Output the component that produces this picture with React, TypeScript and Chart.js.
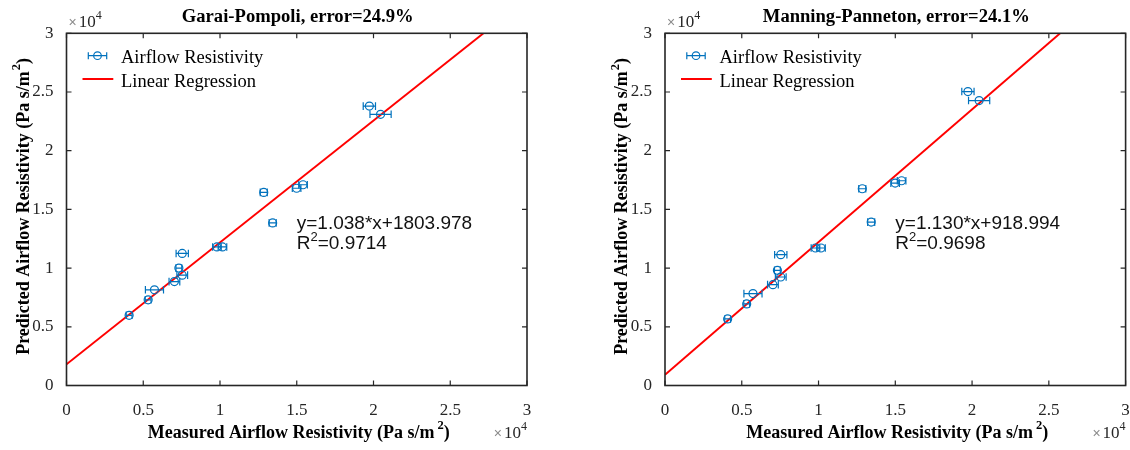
import React, { useEffect, useRef } from "react";
import { Chart, registerables } from "chart.js";

Chart.register(...registerables);

// ---------------- Data ----------------
const tickValues = [0, 5000, 10000, 15000, 20000, 25000, 30000];
const tickLabels = ["0", "0.5", "1", "1.5", "2", "2.5", "3"];

// measured airflow resistivity (Pa s/m^2) and its horizontal error
const measured = [4080, 5320, 5730, 7030, 7320, 7540, 7540, 9800, 10160, 12850, 13430, 14990, 15410, 19730, 20460];
const measuredErr = [190, 190, 590, 350, 190, 350, 400, 280, 280, 230, 230, 280, 280, 400, 690];

// Garai-Pompoli predictions
const gpPredicted = [5980, 7300, 8150, 8850, 10000, 9400, 11250, 11800, 11800, 16450, 13850, 16800, 17100, 23800, 23100];
const gpSlope = 1.038;
const gpIntercept = 1803.978;
const gpR2 = "0.9714";
const gpTitle = "Garai-Pompoli, error=24.9%";

// Manning-Panneton predictions
const mpPredicted = [5670, 6950, 7830, 8590, 9810, 9240, 11140, 11710, 11710, 16760, 13920, 17240, 17440, 25040, 24270];
const mpSlope = 1.13;
const mpIntercept = 918.994;
const mpR2 = "0.9698";
const mpTitle = "Manning-Panneton, error=24.1%";

const axisMax = 30000;

// ---------------- Styles ----------------
const serif = '"Liberation Serif", "Times New Roman", Times, serif';
const sans = '"Liberation Sans", Arial, Helvetica, sans-serif';
const axisColor = "#262626";
const markerColor = "#0072BD";
const lineColor = "#FF0000";

type Seg = { t: string; sup?: boolean; dx?: number };

function drawRich(
  ctx: CanvasRenderingContext2D,
  segs: Seg[],
  x: number,
  y: number,
  align: "left" | "center" | "right",
  font: string,
  supFont: string,
  raise: number
) {
  const widths = segs.map((s) => {
    ctx.font = s.sup ? supFont : font;
    return ctx.measureText(s.t).width + (s.dx || 0);
  });
  const total = widths.reduce((a, b) => a + b, 0);
  let cx = align === "center" ? x - total / 2 : align === "right" ? x - total : x;
  ctx.textAlign = "left";
  ctx.textBaseline = "alphabetic";
  segs.forEach((s, i) => {
    ctx.font = s.sup ? supFont : font;
    ctx.fillText(s.t, cx + (s.dx || 0), s.sup ? y - raise : y);
    cx += widths[i];
  });
}

type PanelProps = {
  left: number;
  canvasWidth: number;
  yAxisWidth: number;
  rightPad: number;
  predicted: number[];
  slope: number;
  intercept: number;
  r2: string;
  title: string;
};

function Panel(p: PanelProps) {
  const ref = useRef<HTMLCanvasElement | null>(null);

  useEffect(() => {
    const canvas = ref.current;
    if (!canvas) return;

    const points = measured.map((x, i) => ({ x, y: p.predicted[i] }));
    const xEnd = (axisMax - p.intercept) / p.slope;
    const fitLine = [
      { x: 0, y: p.intercept },
      { x: xEnd, y: p.slope * xEnd + p.intercept },
    ];

    const decor = {
      id: "decor",
      afterDatasetsDraw(chart: any) {
        const ctx: CanvasRenderingContext2D = chart.ctx;
        const xs = chart.scales.x;
        const ys = chart.scales.y;
        ctx.save();
        ctx.strokeStyle = markerColor;
        ctx.lineWidth = 1.2;
        const cap = 3.8;
        measured.forEach((m, i) => {
          const py = ys.getPixelForValue(p.predicted[i]);
          const x1 = xs.getPixelForValue(m - measuredErr[i]);
          const x2 = xs.getPixelForValue(m + measuredErr[i]);
          ctx.beginPath();
          ctx.moveTo(x1, py);
          ctx.lineTo(x2, py);
          ctx.moveTo(x1, py - cap);
          ctx.lineTo(x1, py + cap);
          ctx.moveTo(x2, py - cap);
          ctx.lineTo(x2, py + cap);
          ctx.stroke();
        });
        ctx.restore();
      },
      afterDraw(chart: any) {
        const ctx: CanvasRenderingContext2D = chart.ctx;
        const { left, right, top, bottom } = chart.chartArea;
        const xs = chart.scales.x;
        const ys = chart.scales.y;
        ctx.save();

        // box + inward ticks
        ctx.strokeStyle = axisColor;
        ctx.lineWidth = 1.6;
        ctx.strokeRect(left, top, right - left, bottom - top);
        ctx.lineWidth = 1.2;
        const tl = 5;
        ctx.beginPath();
        tickValues.forEach((v) => {
          const px = xs.getPixelForValue(v);
          ctx.moveTo(px, bottom);
          ctx.lineTo(px, bottom - tl);
          ctx.moveTo(px, top);
          ctx.lineTo(px, top + tl);
          const py = ys.getPixelForValue(v);
          ctx.moveTo(left, py);
          ctx.lineTo(left + tl, py);
          ctx.moveTo(right, py);
          ctx.lineTo(right - tl, py);
        });
        ctx.stroke();

        const cxPlot = (left + right) / 2;
        const cyPlot = (top + bottom) / 2;

        // title
        ctx.fillStyle = "#000";
        ctx.font = `bold 18.6px ${serif}`;
        ctx.textAlign = "center";
        ctx.textBaseline = "alphabetic";
        ctx.fillText(p.title, cxPlot + 1, 21.5);

        // x label
        ctx.fillStyle = "#000";
        drawRich(
          ctx,
          [
            { t: "Measured Airflow Resistivity (Pa s/m" },
            { t: "2", sup: true, dx: 3 },
            { t: ")" },
          ],
          cxPlot + 2,
          437.5,
          "center",
          `bold 18px ${serif}`,
          `bold 12.5px ${serif}`,
          8.5
        );

        // y label (rotated)
        ctx.save();
        ctx.translate(left - 38, cyPlot - 3);
        ctx.rotate(-Math.PI / 2);
        drawRich(
          ctx,
          [
            { t: "Predicted Airflow Resistivity (Pa s/m" },
            { t: "2", sup: true, dx: 1 },
            { t: ")" },
          ],
          0,
          0,
          "center",
          `bold 18px ${serif}`,
          `bold 12.5px ${serif}`,
          8.5
        );
        ctx.restore();

        // exponent labels
        const drawExp = (x: number, y: number, align: "left" | "right") => {
          ctx.font = `14px ${sans}`;
          const wx = ctx.measureText("\u00d7").width;
          ctx.font = `17px ${serif}`;
          const w10 = ctx.measureText("10").width;
          ctx.font = `12px ${serif}`;
          const w4 = ctx.measureText("4").width;
          const total = wx + 2 + w10 + w4;
          let sx = align === "left" ? x : x - total;
          ctx.textAlign = "left";
          ctx.fillStyle = "#8a8a8a";
          ctx.font = `14px ${sans}`;
          ctx.fillText("\u00d7", sx, y);
          sx += wx + 2;
          ctx.fillStyle = axisColor;
          ctx.font = `17px ${serif}`;
          ctx.fillText("10", sx, y);
          sx += w10;
          ctx.font = `12px ${serif}`;
          ctx.fillText("4", sx, y - 8);
        };
        drawExp(left + 2, 26.5, "left");
        drawExp(right, 438, "right");

        // legend
        const lx = left;
        ctx.strokeStyle = markerColor;
        ctx.lineWidth = 1.2;
        const ly1 = top + 22.4;
        const a1 = lx + 21.8;
        const a2 = lx + 40.2;
        ctx.beginPath();
        ctx.moveTo(a1, ly1);
        ctx.lineTo(a2, ly1);
        ctx.moveTo(a1, ly1 - 3.5);
        ctx.lineTo(a1, ly1 + 3.5);
        ctx.moveTo(a2, ly1 - 3.5);
        ctx.lineTo(a2, ly1 + 3.5);
        ctx.stroke();
        ctx.beginPath();
        ctx.arc((a1 + a2) / 2, ly1, 3.8, 0, Math.PI * 2);
        ctx.stroke();
        ctx.strokeStyle = lineColor;
        ctx.lineWidth = 2;
        ctx.beginPath();
        ctx.moveTo(lx + 16, top + 45.7);
        ctx.lineTo(lx + 46.8, top + 45.7);
        ctx.stroke();
        ctx.fillStyle = "#000";
        ctx.font = `18.5px ${serif}`;
        ctx.textAlign = "left";
        ctx.fillText("Airflow Resistivity", lx + 54.5, top + 29.4);
        ctx.fillText("Linear Regression", lx + 54.5, top + 53.4);

        // regression annotation
        const ax = xs.getPixelForValue(15000);
        const ay = ys.getPixelForValue(13000);
        ctx.fillStyle = "#111";
        ctx.font = `19px ${sans}`;
        ctx.textAlign = "left";
        ctx.fillText(
          `y=${p.slope.toFixed(3)}*x+${p.intercept.toFixed(3)}`,
          ax,
          ay - 4
        );
        drawRich(
          ctx,
          [{ t: "R" }, { t: "2", sup: true }, { t: "=" + p.r2 }],
          ax,
          ay + 16,
          "left",
          `19px ${sans}`,
          `13px ${sans}`,
          8
        );

        ctx.restore();
      },
    };

    const tickFont = { family: serif, size: 17 };
    const labelFor = (v: any) => {
      const i = tickValues.indexOf(Number(v));
      return i >= 0 ? tickLabels[i] : "";
    };

    const chart = new Chart(canvas, {
      type: "scatter",
      data: {
        datasets: [
          {
            label: "Airflow Resistivity",
            data: points,
            pointStyle: "circle",
            pointRadius: 4,
            pointHoverRadius: 4,
            pointBorderWidth: 1.2,
            borderColor: markerColor,
            backgroundColor: "rgba(0,0,0,0)",
            showLine: false,
          },
          {
            label: "Linear Regression",
            data: fitLine,
            showLine: true,
            borderColor: lineColor,
            backgroundColor: lineColor,
            borderWidth: 2,
            pointRadius: 0,
            pointHoverRadius: 0,
            fill: false,
          },
        ],
      },
      options: {
        animation: false,
        responsive: false,
        devicePixelRatio: 1,
        events: [],
        layout: { padding: { left: 0, top: 33.3, right: p.rightPad, bottom: 0 } },
        plugins: {
          legend: { display: false },
          title: { display: false },
          tooltip: { enabled: false },
        },
        scales: {
          x: {
            type: "linear",
            min: 0,
            max: axisMax,
            afterBuildTicks: (s: any) => {
              s.ticks = tickValues.map((v) => ({ value: v }));
            },
            ticks: {
              callback: labelFor,
              font: tickFont,
              color: axisColor,
              padding: 7,
              maxRotation: 0,
              autoSkip: false,
            },
            grid: { display: false },
            border: { display: false },
            afterFit: (s: any) => {
              s.height = 64.5;
            },
          },
          y: {
            type: "linear",
            min: 0,
            max: axisMax,
            afterBuildTicks: (s: any) => {
              s.ticks = tickValues.map((v) => ({ value: v }));
            },
            ticks: {
              callback: labelFor,
              font: tickFont,
              color: axisColor,
              padding: 5,
              autoSkip: false,
            },
            grid: { display: false },
            border: { display: false },
            afterFit: (s: any) => {
              s.width = p.yAxisWidth;
            },
          },
        },
      } as any,
      plugins: [decor as any],
    });

    return () => chart.destroy();
  }, []);

  return (
    <canvas
      ref={ref}
      width={p.canvasWidth}
      height={450}
      style={{
        position: "absolute",
        left: p.left,
        top: 0,
        width: p.canvasWidth,
        height: 450,
        display: "block",
      }}
    />
  );
}

export default function App() {
  return (
    <div
      style={{
        position: "absolute",
        left: 0,
        top: 0,
        width: 1130,
        height: 450,
        overflow: "hidden",
        background: "#fff",
      }}
    >
      <Panel
        left={0}
        canvasWidth={565}
        yAxisWidth={66.5}
        rightPad={38}
        predicted={gpPredicted}
        slope={gpSlope}
        intercept={gpIntercept}
        r2={gpR2}
        title={gpTitle}
      />
      <Panel
        left={565}
        canvasWidth={600}
        yAxisWidth={100}
        rightPad={39.4}
        predicted={mpPredicted}
        slope={mpSlope}
        intercept={mpIntercept}
        r2={mpR2}
        title={mpTitle}
      />
    </div>
  );
}
